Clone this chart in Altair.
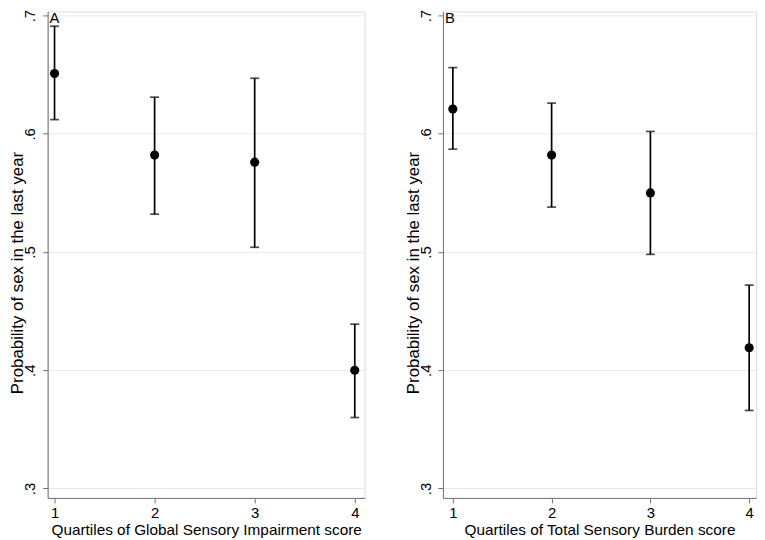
import altair as alt
import pandas as pd

quartiles = [1, 2, 3, 4]
gsi_est = [0.651, 0.582, 0.576, 0.400]
gsi_lo = [0.612, 0.532, 0.504, 0.360]
gsi_hi = [0.691, 0.631, 0.647, 0.439]
tsb_est = [0.621, 0.582, 0.550, 0.419]
tsb_lo = [0.587, 0.538, 0.498, 0.366]
tsb_hi = [0.656, 0.626, 0.602, 0.472]
y_ticks = [0.3, 0.4, 0.5, 0.6, 0.7]
y_title = "Probability of sex in the last year"
panel_letters = ["A", "B"]
x_titles = ["Quartiles of Global Sensory Impairment score",
            "Quartiles of Total Sensory Burden score"]

FONT = "Liberation Sans"
AXIS_GRAY = "#707070"
PLOT_H = 491


def panel(est, lo, hi, letter, xtitle, width, xdomain):
    df = pd.DataFrame({"q": quartiles, "est": est, "lo": lo, "hi": hi})
    base = alt.Chart(df)
    xscale = alt.Scale(domain=xdomain, nice=False, zero=False)
    yscale = alt.Scale(domain=[0.292, 0.7035], nice=False, zero=False)
    xaxis = alt.Axis(values=quartiles, title=xtitle, format="d", grid=False,
                     domainColor=AXIS_GRAY, tickColor=AXIS_GRAY, tickSize=5,
                     labelPadding=3, titlePadding=2, labelFontSize=15,
                     titleFontSize=15.5, labelFont=FONT, titleFont=FONT,
                     labelColor="black", titleColor="black",
                     titleFontWeight="normal", labelFlush=False)
    yaxis = alt.Axis(values=y_ticks, title=y_title,
                     labelExpr="replace(format(datum.value, '.1f'), '0.', '.')",
                     grid=True, gridColor="#e2eced", gridWidth=1,
                     domainColor=AXIS_GRAY, tickColor=AXIS_GRAY, tickSize=5,
                     labelAngle=-90, labelAlign="center", labelBaseline="bottom",
                     labelPadding=5, labelFontSize=15, titleFontSize=17,
                     labelFont=FONT, titleFont=FONT, labelColor="black",
                     titleColor="black", titleFontWeight="normal",
                     titleX=-21, titleY=263.5, titleBaseline="bottom",
                     labelFlush=False)
    x = alt.X("q:Q", scale=xscale, axis=xaxis)
    rule = base.mark_rule(color="black", strokeWidth=1.7).encode(
        x=x, y=alt.Y("lo:Q", scale=yscale, axis=yaxis), y2="hi:Q")
    cap_lo = base.mark_tick(color="black", thickness=1.7, size=9,
                            orient="horizontal").encode(
        x=x, y=alt.Y("lo:Q", scale=yscale, axis=yaxis))
    cap_hi = base.mark_tick(color="black", thickness=1.7, size=9,
                            orient="horizontal").encode(
        x=x, y=alt.Y("hi:Q", scale=yscale, axis=yaxis))
    pts = base.mark_circle(color="black", size=85, opacity=1).encode(
        x=x, y=alt.Y("est:Q", scale=yscale, axis=yaxis))
    lab = alt.Chart(pd.DataFrame({"t": [letter]})).mark_text(
        font=FONT, fontSize=15, color="black", align="left", baseline="top"
    ).encode(text="t:N", x=alt.value(2), y=alt.value(0))
    return alt.layer(rule, cap_lo, cap_hi, pts, lab).properties(
        width=width, height=PLOT_H)


left = panel(gsi_est, gsi_lo, gsi_hi, panel_letters[0], x_titles[0],
             320, [0.931, 4.099])
right = panel(tsb_est, tsb_lo, tsb_hi, panel_letters[1], x_titles[1],
              316, [0.8997, 4.0692])

chart = alt.hconcat(left, right, spacing=38).properties(
    padding={"left": 0, "top": -2, "right": 0, "bottom": 0}
).configure_view(stroke=None).configure(background="white")

chart.save("out.html", embed_options={"renderer": "svg", "actions": False})
